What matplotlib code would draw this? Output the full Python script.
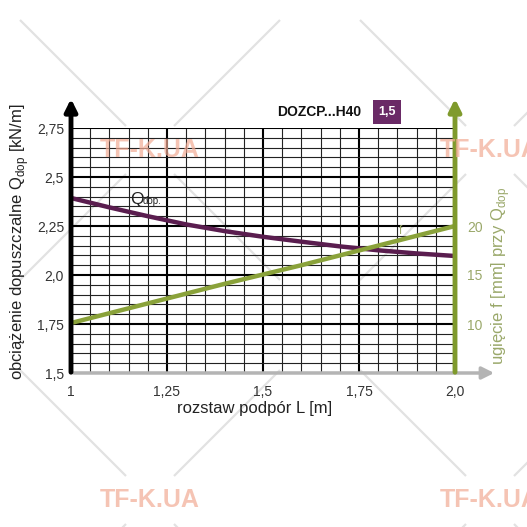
import numpy as np
import matplotlib
matplotlib.use("Agg")
import matplotlib.pyplot as plt
from matplotlib.ticker import MultipleLocator
from matplotlib.patches import FancyArrowPatch

plt.rcParams['font.family'] = ['Liberation Sans', 'DejaVu Sans']
plt.rcParams['mathtext.fontset'] = 'custom'
plt.rcParams['mathtext.rm'] = 'Liberation Sans'

# data
L = [1.0, 1.1, 1.2, 1.3, 1.4, 1.5, 1.6, 1.7, 1.8, 1.9, 2.0]
q_dop = [2.393, 2.345, 2.300, 2.258, 2.224, 2.195, 2.170, 2.146, 2.126, 2.110, 2.097]
f_mm = [10.1, 11.1, 12.1, 13.1, 14.1, 15.05, 16.0, 17.0, 18.0, 19.0, 20.0]

x_ticks = [1.0, 1.25, 1.5, 1.75, 2.0]
x_labels = ['1', '1,25', '1,5', '1,75', '2,0']
y_ticks = [1.5, 1.75, 2.0, 2.25, 2.5, 2.75]
y_labels = ['1,5', '1,75', '2,0', '2,25', '2,5', '2,75']
f_ticks = [10, 15, 20]
f_labels = ['10', '15', '20']

PURPLE = '#5a1d4f'
OLIVE = '#8aa23a'
OLIVE_AX = '#7f9a2c'
OLIVE_TXT = '#9aa86a'
WM = '#f2ab95'

W = H = 527
fig = plt.figure(figsize=(5.27, 5.27), dpi=100)

# background watermark crosses (pixel coordinates)
bg = fig.add_axes([0, 0, 1, 1], zorder=-5)
bg.set_xlim(0, W)
bg.set_ylim(H, 0)
bg.axis('off')
nodes = [(150, 150), (490, 150), (150, 500), (490, 500)]
for cx, cy in nodes:
    for dx, dy in [(1, 1), (1, -1), (-1, 1), (-1, -1)]:
        bg.plot([cx + dx*24, cx + dx*130], [cy + dy*24, cy + dy*130],
                color='#e2e2e2', lw=1.6, solid_capstyle='butt')

def px(x, y):
    return (x / W, 1 - y / H)

left, right, top, bottom = 71, 455, 128, 373
ax = fig.add_axes([left / W, 1 - bottom / H, (right - left) / W, (bottom - top) / H])
ax.patch.set_alpha(0)
ax.set_xlim(1.0, 2.0)
ax.set_ylim(1.5, 2.75)
for s in ax.spines.values():
    s.set_visible(False)

ax.xaxis.set_major_locator(MultipleLocator(0.25))
ax.xaxis.set_minor_locator(MultipleLocator(0.05))
ax.yaxis.set_major_locator(MultipleLocator(0.25))
ax.yaxis.set_minor_locator(MultipleLocator(0.05))
ax.grid(which='minor', color='#222222', lw=0.8)
ax.grid(which='major', color='#000000', lw=1.5)
ax.set_axisbelow(True)

ax.set_xticks(x_ticks)
ax.set_xticklabels(x_labels)
ax.set_yticks(y_ticks)
ax.set_yticklabels(y_labels)
ax.tick_params(which='both', length=0, labelsize=10, labelcolor='#333333')
ax.tick_params(axis='x', pad=9)
ax.tick_params(axis='y', pad=5)

ax.plot(L, q_dop, color=PURPLE, lw=3.2, solid_capstyle='butt', zorder=4)

ax2 = ax.twinx()
ax2.set_ylim(5, 30)
for s in ax2.spines.values():
    s.set_visible(False)
ax2.set_yticks(f_ticks)
ax2.set_yticklabels(f_labels)
ax2.tick_params(length=0, labelsize=10, labelcolor=OLIVE_TXT, pad=9)
ax2.plot(L, f_mm, color=OLIVE, lw=3.2, solid_capstyle='butt', zorder=3)

# axis arrows
arr_x = FancyArrowPatch(px(left, bottom), px(497, bottom), transform=fig.transFigure,
                        arrowstyle='-|>', mutation_scale=18, color='#b4b4b4', lw=2.5)
arr_l = FancyArrowPatch(px(left, bottom + 2), px(left, 96), transform=fig.transFigure,
                        arrowstyle='-|>', mutation_scale=18, color='#000000', lw=3.5)
arr_r = FancyArrowPatch(px(right, bottom + 2), px(right, 96), transform=fig.transFigure,
                        arrowstyle='-|>', mutation_scale=18, color=OLIVE_AX, lw=3.5)
for a in (arr_x, arr_l, arr_r):
    fig.add_artist(a)

# labels
fig.text(*px(255, 408), 'rozstaw podpór L [m]', ha='center', va='center',
         fontsize=12, color='#222222')
fig.text(*px(20, 242), r'obciążenie dopuszczalne Q$_{\mathregular{dop}}$ [kN/m]',
         ha='center', va='center', rotation=90, fontsize=12, color='#222222')
fig.text(*px(501, 276), r'ugięcie f [mm] przy Q$_{\mathregular{dop}}$',
         ha='center', va='center', rotation=90, fontsize=12, color=OLIVE_TXT)

fig.text(*px(130, 204), 'Q', fontsize=12.5, color='#222222', ha='left', va='baseline')
fig.text(*px(143, 204), 'dop.', fontsize=7, color='#222222', ha='left', va='baseline')
fig.text(*px(399, 234), 'f', fontsize=8.5, color=OLIVE_TXT, ha='left', va='baseline')

fig.text(*px(319, 112), 'DOZCP...H40', fontsize=10, fontweight='bold',
         ha='center', va='center', color='#111111')
fig.text(*px(387, 112), '1,5', fontsize=9, fontweight='bold', ha='center', va='center',
         color='white', bbox=dict(boxstyle='square,pad=0.45', fc='#6a2a66', ec='none'))

# watermarks
for cx, cy in nodes:
    fig.text(*px(cx, cy), 'TF-K.UA', fontsize=18, fontweight='bold', color=WM,
             alpha=0.7, ha='center', va='center', zorder=10)

fig.savefig('out.png', dpi=100)
